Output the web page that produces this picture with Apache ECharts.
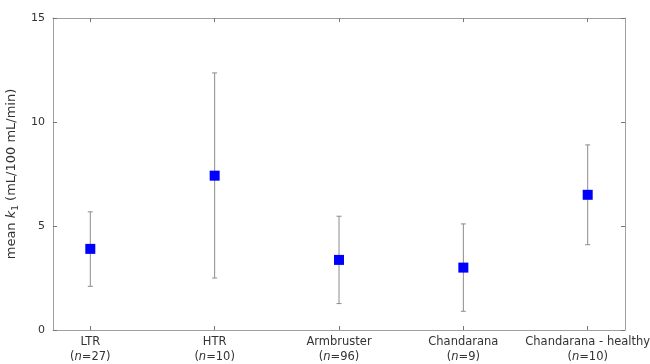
<!DOCTYPE html>
<html>
<head>
<meta charset="utf-8">
<script src="https://cdn.jsdelivr.net/npm/echarts@6/dist/echarts.min.js"></script>
<style>html,body{margin:0;padding:0;background:#fff}#c{width:650px;height:364px}</style>
</head>
<body>
<div id="c"></div>
<script>
var categories = ['LTR', 'HTR', 'Armbruster', 'Chandarana', 'Chandarana - healthy'];
var sampleSizes = [27, 10, 96, 9, 10];
var positions = [1, 2, 3, 4, 5];
var means = [3.9, 7.42, 3.37, 3.0, 6.5];
var lower = [2.1, 2.5, 1.27, 0.9, 4.1];
var upper = [5.68, 12.36, 5.47, 5.1, 8.9];
var yTicks = [0, 5, 10, 15];

var chart = echarts.init(document.getElementById('c'), null, {renderer: 'canvas'});
var font = 'DejaVu Sans';
var axisColor = '#a0a0a0';
var textColor = '#333333';

var scatterData = positions.map(function (p, i) { return [p, means[i]]; });
var errData = positions.map(function (p, i) { return [p, lower[i], upper[i]]; });

var xLabelRich = {
  a: {fontFamily: font, fontSize: 11.5, color: textColor, lineHeight: 15},
  i: {fontFamily: font, fontSize: 11.5, color: textColor, fontStyle: 'italic', lineHeight: 15}
};

chart.setOption({
  animation: false,
  grid: {left: 53, right: 25, top: 18, bottom: 34, containLabel: false, outerBoundsMode: 'none'},
  xAxis: [{
    type: 'value', min: 0.7, max: 5.3, position: 'bottom',
    splitLine: {show: false},
    axisLine: {show: true, onZero: false, lineStyle: {color: axisColor, width: 1}},
    axisTick: {show: true, inside: true, length: 4, customValues: positions, lineStyle: {color: '#777'}},
    axisLabel: {
      show: true, margin: 5, customValues: positions, hideOverlap: false,
      formatter: function (v) {
        var i = Math.round(v) - 1;
        return '{a|' + categories[i] + '}\n{a|(}{i|n}{a|=' + sampleSizes[i] + ')}';
      },
      rich: xLabelRich
    }
  }, {
    type: 'value', min: 0.7, max: 5.3, position: 'top',
    splitLine: {show: false},
    axisLine: {show: true, onZero: false, lineStyle: {color: axisColor, width: 1}},
    axisTick: {show: true, inside: true, length: 4, customValues: positions, lineStyle: {color: '#777'}},
    axisLabel: {show: false}
  }],
  yAxis: [{
    type: 'value', min: 0, max: 15, interval: 5, position: 'left',
    splitLine: {show: false},
    axisLine: {show: true, onZero: false, lineStyle: {color: axisColor, width: 1}},
    axisTick: {show: true, inside: true, length: 4, lineStyle: {color: '#777'}},
    axisLabel: {show: true, margin: 8, fontFamily: font, fontSize: 11, color: textColor},
    name: '{a|mean }{i|k}{s|1}{a| (mL/100 mL/min)}',
    nameLocation: 'middle', nameGap: 24, nameRotate: 90,
    nameTextStyle: {
      rich: {
        a: {fontFamily: font, fontSize: 13, color: textColor},
        i: {fontFamily: font, fontSize: 13, color: textColor, fontStyle: 'italic'},
        s: {fontFamily: font, fontSize: 9, color: textColor, padding: [7, 0, 0, 0]}
      }
    }
  }, {
    type: 'value', min: 0, max: 15, interval: 5, position: 'right',
    splitLine: {show: false},
    axisLine: {show: true, onZero: false, lineStyle: {color: axisColor, width: 1}},
    axisTick: {show: true, inside: true, length: 4, lineStyle: {color: '#777'}},
    axisLabel: {show: false}
  }],
  series: [{
    type: 'custom',
    xAxisIndex: 0, yAxisIndex: 0,
    data: errData,
    renderItem: function (params, api) {
      var x = api.value(0);
      var lo = api.coord([x, api.value(1)]);
      var hi = api.coord([x, api.value(2)]);
      var w = 2.5;
      var st = {stroke: '#8c8c8c', lineWidth: 1};
      return {
        type: 'group',
        children: [
          {type: 'line', shape: {x1: lo[0], y1: lo[1], x2: hi[0], y2: hi[1]}, style: st},
          {type: 'line', shape: {x1: lo[0] - w, y1: lo[1], x2: lo[0] + w, y2: lo[1]}, style: st},
          {type: 'line', shape: {x1: hi[0] - w, y1: hi[1], x2: hi[0] + w, y2: hi[1]}, style: st}
        ]
      };
    },
    z: 2
  }, {
    type: 'scatter',
    xAxisIndex: 0, yAxisIndex: 0,
    data: scatterData,
    symbol: 'rect', symbolSize: 10,
    itemStyle: {color: '#0000ff', opacity: 1},
    z: 3
  }]
});
</script>
</body>
</html>
